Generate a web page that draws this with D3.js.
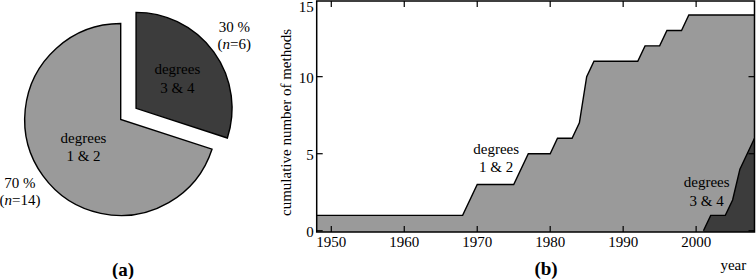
<!DOCTYPE html>
<html><head><meta charset="utf-8">
<script src="https://cdn.jsdelivr.net/npm/d3@7"></script>
<style>
body{margin:0;background:#fff}
svg{display:block}
text{font-family:"Liberation Serif","Times New Roman",serif;font-size:15px;fill:#000}
</style>
</head><body>
<svg id="c" width="756" height="279"></svg>
<script>
// ---- data ----
const pieGroups = ["3 & 4", "1 & 2"];
const pieCounts = [6, 14];
const piePercents = ["30 %", "70 %"];

const years12 = [1948, 1968, 1970, 1975, 1977, 1980, 1981, 1983, 1984, 1985, 1986, 1992, 1993, 1995, 1996, 1998, 1999, 2008];
const cum12   = [1,    1,    3,    3,    5,    5,    6,    6,    7,    10,   11,   11,   12,   12,   13,   13,   14,   14];
const years34 = [2001, 2002, 2004, 2005, 2006, 2007, 2008];
const cum34   = [0,    1,    1,    2,    4,    5,    6];

const xTicks = [1950, 1960, 1970, 1980, 1990, 2000];
const yTicks = [0, 5, 10, 15];

const LIGHT = "#9a9a9a", DARK = "#3c3c3c";
const svg = d3.select("#c");

// ---- (a) pie ----
const cx = 120.7, cy = 119.5, R = 96, explode = 19;
const pieData = d3.pie().sort(null).value(d => d)(pieCounts);
const arc = d3.arc().innerRadius(0).outerRadius(R);
const fills = [DARK, LIGHT];
const gPie = svg.append("g").attr("transform", `translate(${cx},${cy})`);
pieData.forEach((d, i) => {
  const mid = (d.startAngle + d.endAngle) / 2;
  const off = i === 0 ? explode : 0;
  const ox = Math.sin(mid) * off, oy = -Math.cos(mid) * off;
  const g = gPie.append("g").attr("transform", `translate(${ox},${oy})`);
  g.append("path").attr("d", arc(d)).attr("fill", fills[i])
    .attr("stroke", "#000").attr("stroke-width", 1.4).attr("stroke-linejoin", "miter");
  // inner label
  const ri = i === 0 ? 51 : 46;
  const ix = Math.sin(mid) * ri, iy = -Math.cos(mid) * ri;
  const t = g.append("text").attr("text-anchor", "middle");
  t.append("tspan").attr("x", ix).attr("y", iy - 4).text("degrees");
  t.append("tspan").attr("x", ix).attr("y", iy + 14.5).text(pieGroups[i]);
  // outer label
  const ro = i === 0 ? 121.5 : 124.5;
  const oxl = Math.sin(mid) * ro, oyl = -Math.cos(mid) * ro;
  const t2 = g.append("text").attr("text-anchor", "middle");
  t2.append("tspan").attr("x", oxl).attr("y", oyl - 4.5).text(piePercents[i]);
  const t3 = t2.append("tspan").attr("x", oxl).attr("y", oyl + 12);
  t3.append("tspan").text("(");
  t3.append("tspan").attr("font-style", "italic").text("n");
  t3.append("tspan").text("=" + pieCounts[i] + ")");
});
svg.append("text").attr("x", 123).attr("y", 276).attr("text-anchor", "middle")
  .attr("font-weight", "bold").style("font-size", "19px").text("(a)");

// ---- (b) area chart ----
const x = d3.scaleLinear().domain([1948, 2008]).range([316.7, 754.5]);
const y = d3.scaleLinear().domain([-0.08, 14.91]).range([232, 1]);
const yBottom = y.range()[0];

const s12 = years12.map((yr, i) => [yr, cum12[i]]);
const s34 = years34.map((yr, i) => [yr, cum34[i]]);
const area = d3.area().x(d => x(d[0])).y0(yBottom).y1(d => y(d[1]));
const line = d3.line().x(d => x(d[0])).y(d => y(d[1]));

svg.append("path").attr("d", area(s12)).attr("fill", LIGHT);
svg.append("path").attr("d", line(s12)).attr("fill", "none").attr("stroke", "#000").attr("stroke-width", 1.4);
svg.append("path").attr("d", area(s34)).attr("fill", DARK);
svg.append("path").attr("d", line(s34)).attr("fill", "none").attr("stroke", "#000").attr("stroke-width", 1.4);

// frame
const [x0, x1] = x.range(), yTop = y.range()[1];
svg.append("rect").attr("x", x0).attr("y", yTop).attr("width", x1 - x0).attr("height", yBottom - yTop)
  .attr("fill", "none").attr("stroke", "#000").attr("stroke-width", 1.5);

// ticks (inside, mirrored)
const tl = 6;
xTicks.forEach(v => {
  const px = x(v);
  svg.append("line").attr("x1", px).attr("x2", px).attr("y1", yBottom).attr("y2", yBottom - tl).attr("stroke", "#000").attr("stroke-width", 1.2);
  svg.append("line").attr("x1", px).attr("x2", px).attr("y1", yTop).attr("y2", yTop + tl).attr("stroke", "#000").attr("stroke-width", 1.2);
  svg.append("text").attr("x", px).attr("y", yBottom + 14.7).attr("text-anchor", "middle").text(v);
});
yTicks.forEach(v => {
  const py = y(v);
  if (py >= yTop - 0.5) {
    svg.append("line").attr("x1", x0).attr("x2", x0 + tl).attr("y1", py).attr("y2", py).attr("stroke", "#000").attr("stroke-width", 1.2);
    svg.append("line").attr("x1", x1).attr("x2", x1 - tl).attr("y1", py).attr("y2", py).attr("stroke", "#000").attr("stroke-width", 1.2);
  }
  svg.append("text").attr("x", x0 - 3).attr("y", Math.max(py + 6.3, 11.5)).attr("text-anchor", "end").text(v);
});

// axis titles
svg.append("text").attr("transform", `translate(291,${(yTop + yBottom) / 2 + 6}) rotate(-90)`)
  .attr("text-anchor", "middle").text("cumulative number of methods");
svg.append("text").attr("x", 733.3).attr("y", 270).attr("text-anchor", "middle").text("year");
svg.append("text").attr("x", 546).attr("y", 274.5).attr("text-anchor", "middle")
  .attr("font-weight", "bold").style("font-size", "19px").text("(b)");

// in-plot labels
function twoLine(year, val, l1, l2, gap) {
  const t = svg.append("text").attr("text-anchor", "middle");
  t.append("tspan").attr("x", x(year)).attr("y", y(val)).text(l1);
  t.append("tspan").attr("x", x(year)).attr("y", y(val) + gap).text(l2);
}
twoLine(1972.6, 5.0, "degrees", "1 & 2", 18.5);
twoLine(2001.45, 2.85, "degrees", "3 & 4", 19);
</script>
</body></html>
